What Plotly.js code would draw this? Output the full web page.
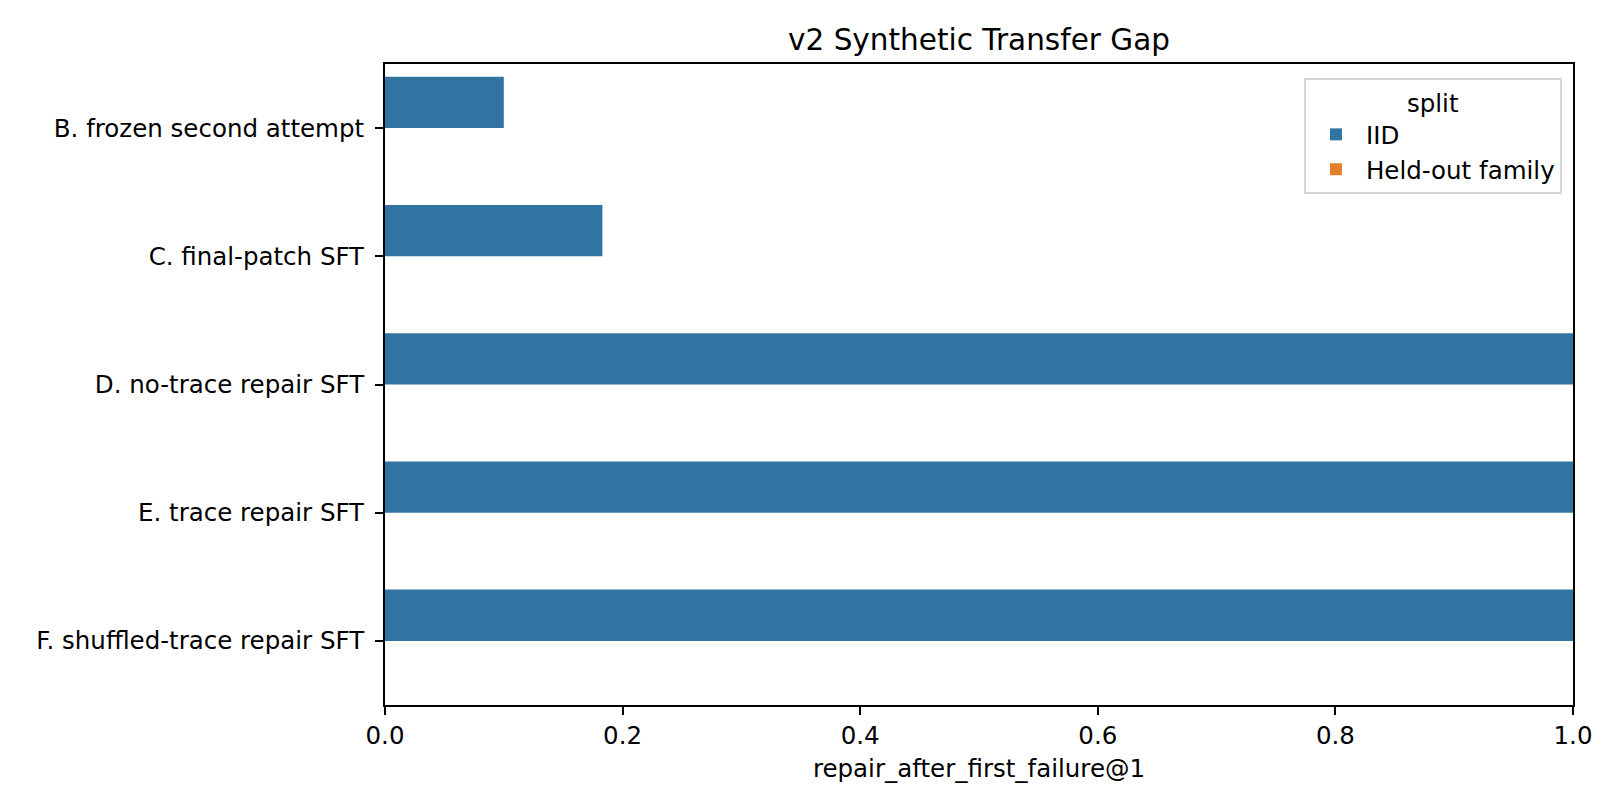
<!DOCTYPE html>
<html>
<head>
<meta charset="utf-8">
<script src="https://cdn.plot.ly/plotly-3.0.1.min.js"></script>
<style>
  html, body { margin: 0; padding: 0; background: #fff; }
  #graphDiv { width: 1620px; height: 810px; }
</style>
</head>
<body>
<div id="graphDiv"></div>
<script>
'use strict';

const methods = [
  "B. frozen second attempt",
  "C. final-patch SFT",
  "D. no-trace repair SFT",
  "E. trace repair SFT",
  "F. shuffled-trace repair SFT"
];
const splits = ["IID", "Held-out family"];
const splitColors = ["#3274a1", "#e1812c"];
const iidValues = [0.1, 0.183, 1.0, 1.0, 1.0];
const heldOutValues = [0, 0, 0, 0, 0];
const xTicks = [0, 0.2, 0.4, 0.6, 0.8, 1.0];
const xTickLabels = ["0.0", "0.2", "0.4", "0.6", "0.8", "1.0"];

const font = "DejaVu Sans, sans-serif";

let seriesValues = [iidValues, heldOutValues];
let traces = [];
for (let i = 0; i < splits.length; i++) {
  traces.push({ type: "bar", orientation: "h", name: splits[i], y: methods, x: seriesValues[i],
    marker: { color: splitColors[i] }, hoverinfo: "x+y" });
}

let axisStyle = {
  showline: true, linecolor: "#000", linewidth: 2, mirror: true,
  ticks: "outside", ticklen: 8, tickwidth: 2, tickcolor: "#000",
  showgrid: false, zeroline: false,
  tickfont: { family: font, size: 24.5, color: "#000" }
};

let layout = {
  width: 1620, height: 810,
  margin: { l: 385, r: 47, t: 64, b: 105 },
  paper_bgcolor: "#fff", plot_bgcolor: "#fff",
  font: { family: font, color: "#000" },
  title: { text: "v2 Synthetic Transfer Gap", font: { family: font, size: 29.5, color: "#000" },
           x: 0.5, xref: "paper", xanchor: "center", y: 1, yref: "paper", yanchor: "bottom", pad: { b: 14 } },
  barmode: "group", bargap: 0.2, bargroupgap: 0,
  xaxis: Object.assign({}, axisStyle, {
    range: [0, 1], tickvals: xTicks, ticktext: xTickLabels,
    title: { text: "repair_after_first_failure@1", font: { family: font, size: 24.5, color: "#000" }, standoff: 10 }
  }),
  yaxis: Object.assign({}, axisStyle, {
    type: "category", categoryarray: methods, range: [4.5, -0.5], ticklabelstandoff: 6
  }),
  legend: {
    x: 0.9907, xanchor: "right", y: 0.978, yanchor: "top",
    bgcolor: "rgba(255,255,255,0.8)", bordercolor: "#d6d6d6", borderwidth: 2,
    font: { family: font, size: 24.5, color: "#000" },
    title: { text: "split", side: "top center", font: { family: font, size: 24.5, color: "#000" } },
    traceorder: "normal", itemwidth: 50
  },
  showlegend: true
};

Plotly.newPlot(graphDiv, traces, layout, { displayModeBar: false, staticPlot: true });
</script>
</body>
</html>
